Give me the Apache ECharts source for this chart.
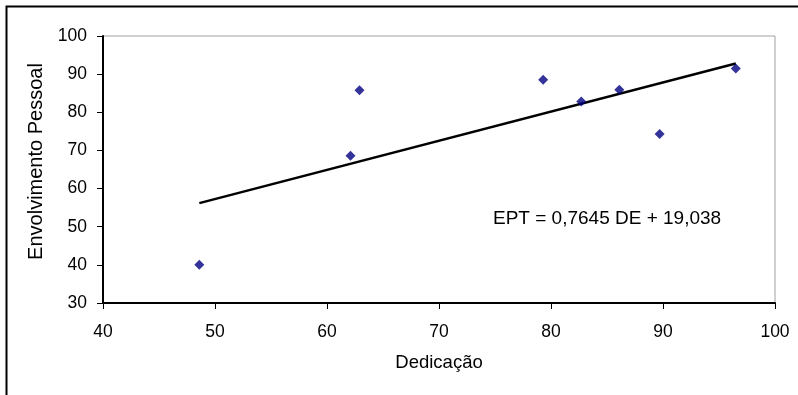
<!DOCTYPE html>
<html>
<head>
<meta charset="utf-8">
<script src="https://cdn.jsdelivr.net/npm/echarts@6/dist/echarts.min.js"></script>
<style>
  html, body { margin: 0; padding: 0; background: #fff; }
  #chart { width: 798px; height: 395px; }
</style>
</head>
<body>
<div id="chart"></div>
<script>
// Dedicação (x) vs. Envolvimento Pessoal (y)
const dedicacao = [48.6, 62.1, 62.9, 79.3, 82.7, 86.1, 89.7, 96.5];
const envolvimento = [40.0, 68.6, 85.8, 88.5, 82.8, 85.9, 74.3, 91.5];

// Linear trend: EPT = slope * DE + intercept
const slope = 0.7645;
const intercept = 19.038;
const equationText = 'EPT = 0,7645 DE + 19,038';

const xTicks = [40, 50, 60, 70, 80, 90, 100];
const yTicks = [30, 40, 50, 60, 70, 80, 90, 100];

const points = dedicacao.map((x, i) => [x, envolvimento[i]]);
const xMinData = Math.min(...dedicacao);
const xMaxData = Math.max(...dedicacao);
const trend = [
  [xMinData, slope * xMinData + intercept],
  [xMaxData, slope * xMaxData + intercept]
];

const font = 'Liberation Sans, Arial, sans-serif';
const chart = echarts.init(document.getElementById('chart'), null, { renderer: 'canvas' });

chart.setOption({
  animation: false,
  backgroundColor: '#ffffff',
  grid: {
    left: 103, top: 36, right: 23, bottom: 92,
    show: true, borderColor: '#a0a0a0', borderWidth: 1, backgroundColor: 'transparent'
  },
  xAxis: {
    type: 'value',
    min: xTicks[0], max: xTicks[xTicks.length - 1], interval: 10,
    name: 'Dedicação', nameLocation: 'middle', nameGap: 50,
    nameTextStyle: { fontFamily: font, fontSize: 18.5, color: '#000' },
    axisLine: { show: true, lineStyle: { color: '#000', width: 2 } },
    axisTick: { show: true, inside: false, length: 6, lineStyle: { color: '#000', width: 1 } },
    axisLabel: { fontFamily: font, fontSize: 17.5, color: '#000', margin: 20 },
    splitLine: { show: false }
  },
  yAxis: {
    type: 'value',
    min: yTicks[0], max: yTicks[yTicks.length - 1], interval: 10,
    name: 'Envolvimento Pessoal', nameLocation: 'middle', nameGap: 56, nameRotate: 90,
    nameTextStyle: { fontFamily: font, fontSize: 20, color: '#000', padding: [0, 0, 0, 16] },
    axisLine: { show: true, lineStyle: { color: '#000', width: 2 } },
    axisTick: { show: true, inside: false, length: 6, lineStyle: { color: '#000', width: 1 } },
    axisLabel: { fontFamily: font, fontSize: 17.5, color: '#000', margin: 16 },
    splitLine: { show: false }
  },
  series: [
    {
      type: 'line',
      data: trend,
      symbol: 'none',
      lineStyle: { color: '#000', width: 2.5 },
      z: 2
    },
    {
      type: 'scatter',
      data: points,
      symbol: 'diamond',
      symbolSize: 10,
      itemStyle: { color: '#000080' },
      z: 3
    }
  ],
  graphic: [
    {
      type: 'rect',
      left: 4, top: 4,
      shape: { width: 820, height: 420 },
      style: { fill: 'none', stroke: '#000', lineWidth: 2 },
      silent: true
    },
    {
      type: 'text',
      x: 493, y: 219,
      style: { text: equationText, font: '19px ' + font, fill: '#000', verticalAlign: 'middle' }
    }
  ]
});
</script>
</body>
</html>
